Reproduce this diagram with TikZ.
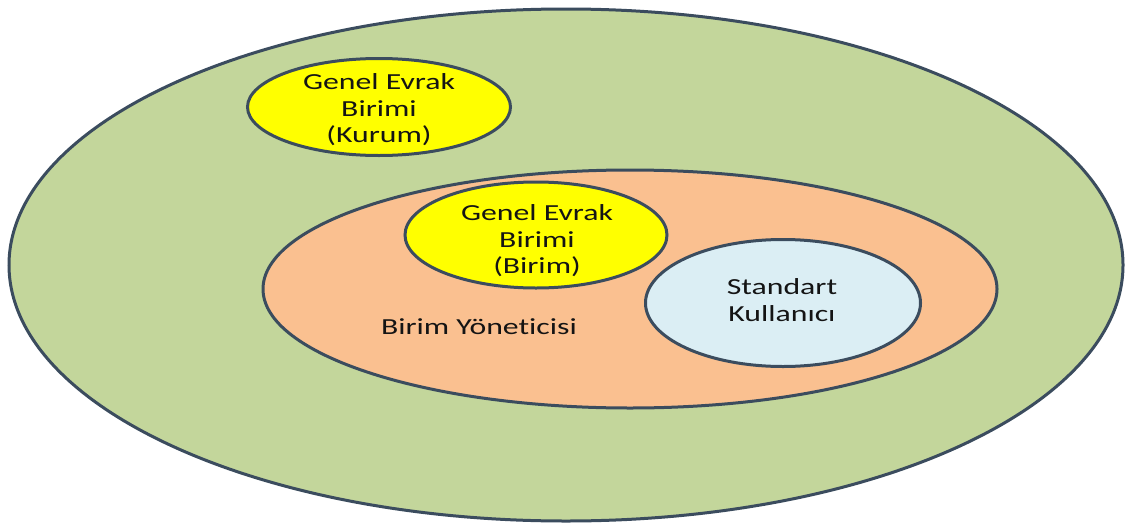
\documentclass[tikz,border=0pt]{standalone}
\usepackage{fontspec}
\setmainfont[FakeStretch=1.38,Ligatures=NoCommon]{Carlito}
\usetikzlibrary{shapes.geometric}
\definecolor{outergreen}{HTML}{C3D69B}
\definecolor{unitorange}{HTML}{FAC090}
\definecolor{docyellow}{HTML}{FFFF00}
\definecolor{userblue}{HTML}{DBEEF4}
\definecolor{edgeblue}{HTML}{3B4C5E}
\definecolor{txt}{HTML}{141414}
\begin{document}
\begin{tikzpicture}[x=1pt,y=-1pt,
  zone/.style={ellipse,draw=edgeblue,line width=3pt,inner sep=0pt},
  lbl/.style={text=txt,align=center,inner sep=0pt,font=\fontsize{23}{26.5}\selectfont}]
\useasboundingbox[fill=white] (0,0) rectangle (1126,530);
\node[zone,fill=outergreen,minimum width=1114pt,minimum height=512pt] (outer) at (566,265) {};
\node[zone,fill=docyellow,minimum width=263pt,minimum height=97pt] (kurum) at (379,107) {};
\node[zone,fill=unitorange,minimum width=734pt,minimum height=238pt] (unit) at (630,289) {};
\node[zone,fill=docyellow,minimum width=262pt,minimum height=106pt] (birim) at (536,235) {};
\node[zone,fill=userblue,minimum width=275pt,minimum height=127pt] (user) at (783,303) {};
\node[lbl] (tkurum) at (379,110) {Genel Evrak\\Birimi\\(Kurum)};
\node[lbl] (tbirim) at (537,241) {Genel Evrak\\Birimi\\(Birim)};
\node[lbl] (tuser) at (782,300) {Standart\\Kullanıcı};
\node[lbl] (tunit) at (479,327) {Birim Yöneticisi};
\end{tikzpicture}
\end{document}
